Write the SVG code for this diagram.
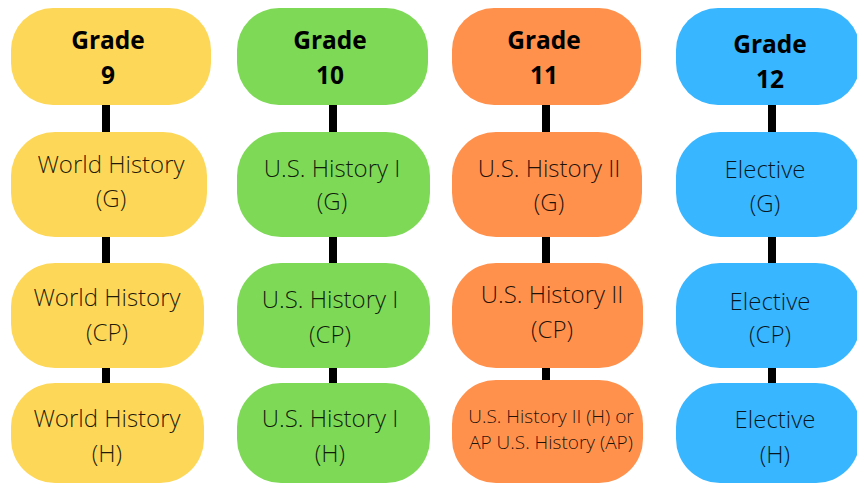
<svg xmlns="http://www.w3.org/2000/svg" width="857" height="485" viewBox="0 0 857 485">
<style>
.bg{fill:#ffffff}
.y{fill:#FDD757}
.g{fill:#7ED957}
.o{fill:#FF914D}
.b{fill:#38B6FF}
.t{font-family:'Open Sans','DejaVu Sans',sans-serif;font-weight:700;font-size:24.5px;fill:#000;text-anchor:middle}
.c{font-family:'Open Sans','DejaVu Sans',sans-serif;font-weight:300;font-size:24px;fill:#000;fill-opacity:0.88;text-anchor:middle}
.s{font-family:'Open Sans','DejaVu Sans',sans-serif;font-weight:300;font-size:19px;fill:#000;fill-opacity:0.88;text-anchor:middle}
.k{fill:#000}
</style>
<rect class="bg" x="0" y="0" width="857" height="485"/>
<g id="connectors">
<rect class="k" x="102" y="100" width="8" height="38"/>
<rect class="k" x="102" y="232" width="8" height="36"/>
<rect class="k" x="102" y="363" width="8" height="25"/>
<rect class="k" x="329" y="100" width="8" height="38"/>
<rect class="k" x="329" y="232" width="8" height="36"/>
<rect class="k" x="329" y="363" width="8" height="25"/>
<rect class="k" x="542" y="100" width="8" height="38"/>
<rect class="k" x="542" y="232" width="8" height="36"/>
<rect class="k" x="542" y="363" width="8" height="22"/>
<rect class="k" x="768" y="100" width="8" height="38"/>
<rect class="k" x="768" y="232" width="8" height="36"/>
<rect class="k" x="768" y="363" width="8" height="25"/>
</g>
<g id="grade9"><rect class="y" x="11" y="8" width="200" height="97" rx="42"/><text class="t" x="108" y="49">Grade</text><text class="t" x="108" y="84">9</text></g>
<g id="wh-g"><rect class="y" x="11" y="132" width="196" height="105" rx="44"/><text class="c" x="111" y="173">World History</text><text class="c" x="111" y="207">(G)</text></g>
<g id="wh-cp"><rect class="y" x="11" y="263" width="193" height="105" rx="44"/><text class="c" x="107" y="306">World History</text><text class="c" x="107" y="341">(CP)</text></g>
<g id="wh-h"><rect class="y" x="11" y="383" width="193" height="100" rx="44"/><text class="c" x="107" y="427">World History</text><text class="c" x="107" y="462">(H)</text></g>

<g id="grade10"><rect class="g" x="237" y="8" width="191" height="97" rx="42"/><text class="t" x="330" y="49">Grade</text><text class="t" x="330" y="84">10</text></g>
<g id="ush1-g"><rect class="g" x="237" y="132" width="193" height="105" rx="44"/><text class="c" x="332" y="177">U.S. History I</text><text class="c" x="332" y="210">(G)</text></g>
<g id="ush1-cp"><rect class="g" x="237" y="263" width="193" height="105" rx="44"/><text class="c" x="330" y="308">U.S. History I</text><text class="c" x="330" y="343">(CP)</text></g>
<g id="ush1-h"><rect class="g" x="237" y="383" width="193" height="100" rx="44"/><text class="c" x="330" y="427">U.S. History I</text><text class="c" x="330" y="462">(H)</text></g>

<g id="grade11"><rect class="o" x="452" y="8" width="189" height="97" rx="42"/><text class="t" x="544" y="49">Grade</text><text class="t" x="544" y="84">11</text></g>
<g id="ush2-g"><rect class="o" x="452" y="132" width="190" height="105" rx="44"/><text class="c" x="549" y="177">U.S. History II</text><text class="c" x="549" y="211">(G)</text></g>
<g id="ush2-cp"><rect class="o" x="452" y="263" width="191" height="105" rx="44"/><text class="c" x="552" y="303">U.S. History II</text><text class="c" x="552" y="338">(CP)</text></g>
<g id="ush2-h"><rect class="o" x="452" y="380" width="191" height="103" rx="44"/><text class="s" x="551" y="423">U.S. History II (H) or</text><text class="s" x="551" y="449">AP U.S. History (AP)</text></g>

<g id="grade12"><rect class="b" x="676" y="8" width="184" height="97" rx="42"/><text class="t" x="770" y="53">Grade</text><text class="t" x="770" y="88">12</text></g>
<g id="el-g"><rect class="b" x="676" y="132" width="184" height="105" rx="44"/><text class="c" x="765" y="178">Elective</text><text class="c" x="765" y="212">(G)</text></g>
<g id="el-cp"><rect class="b" x="676" y="263" width="184" height="105" rx="44"/><text class="c" x="770" y="310">Elective</text><text class="c" x="770" y="343">(CP)</text></g>
<g id="el-h"><rect class="b" x="676" y="383" width="184" height="100" rx="44"/><text class="c" x="775" y="428">Elective</text><text class="c" x="775" y="463">(H)</text></g>
</svg>
